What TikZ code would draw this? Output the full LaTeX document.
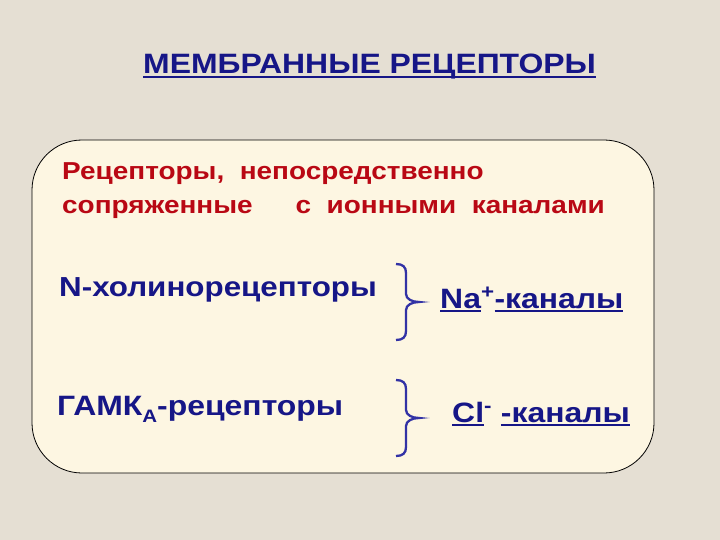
\documentclass[tikz,border=0pt]{standalone}
\usepackage{fontspec}
\setmainfont{Liberation Sans}[FakeStretch=1.14]
\usetikzlibrary{positioning}
\newcommand{\ulbar}[1]{\setbox0\hbox{#1}\rlap{\rule[-0.14em]{\wd0}{0.08em}}\box0}
\newcommand{\lowidx}[1]{\raisebox{-0.28em}{\fontsize{18}{18}\selectfont #1}}

\begin{document}
\begin{tikzpicture}[x=1pt, y=-1pt,
    lbl/.style={inner sep=0pt, anchor=base west, font=\bfseries\fontsize{#1}{#1}\selectfont},
    lbl/.default=28,
    chbrace/.pic={
      \draw[line width=2.3pt, bracecol]
        (-23,-38) .. controls (-16,-38) and (-13,-35) .. (-13,-29) -- (-13,-8)
        .. controls (-13,-3) and (-7,0) .. (0,0)
        .. controls (-7,0) and (-13,3) .. (-13,8) -- (-13,29)
        .. controls (-13,35) and (-16,38) .. (-23,38);
    }]
  \definecolor{paper}{RGB}{229,223,211}
  \definecolor{cream}{RGB}{253,246,226}
  \definecolor{navy}{RGB}{22,22,135}
  \definecolor{redtxt}{RGB}{185,8,20}
  \definecolor{bracecol}{RGB}{50,50,165}

  \def\bracex{419}

  \useasboundingbox[fill=paper] (0,0) rectangle (720,540);

  % frame
  \draw[fill=cream, line width=0.8pt, rounded corners=50] (32,140) rectangle (654,473);

  % heading
  \node[lbl=28, text=navy] (title) at (143,74) {\ulbar{МЕМБРАННЫЕ РЕЦЕПТОРЫ}};

  \node[lbl=24.5, text=redtxt] (lead) at (62,180) {Рецепторы,\ \ непосредственно};
  \node[lbl=24.5, text=redtxt] (leadb) at (62,214) {сопряженные\hspace{1.75em}с\ \ ионными\ \ каналами};

  % receptors
  \node[lbl=27.5, text=navy] (nchol) at (59,296) {N-холинорецепторы};
  \node[lbl, text=navy] (gaba) at (57,415) {ГАМК\lowidx{А}-рецепторы};

  % channels
  \pic at (\bracex,302) {chbrace};
  \pic at (\bracex,418) {chbrace};
  \node[lbl, text=navy] (natch) at (440,308) {\ulbar{Na}\textsuperscript{+}\ulbar{-каналы}};
  \node[lbl, text=navy] (clch) at (452,422) {\ulbar{Cl}\textsuperscript{-} \ulbar{-каналы}};
\end{tikzpicture}
\end{document}
